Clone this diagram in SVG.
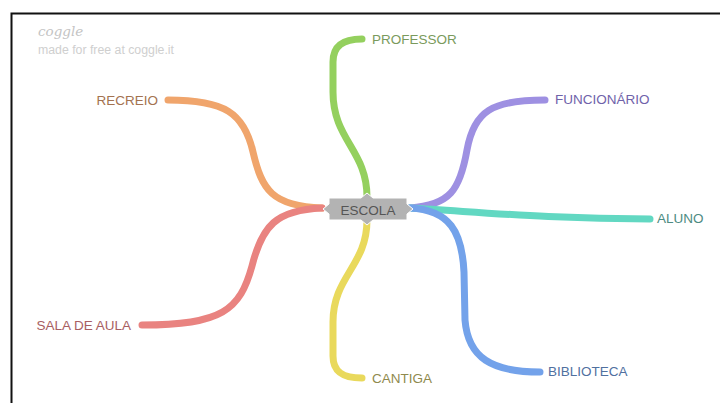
<svg xmlns="http://www.w3.org/2000/svg" width="720" height="403" viewBox="0 0 720 403">
<style>
.br{fill:none;stroke-linecap:round;stroke-linejoin:round;stroke-width:7}
.lb{font-family:"Liberation Sans",Arial,sans-serif;font-size:13.5px}
</style>
<rect width="720" height="403" fill="#fff"/>
<path d="M11.5,403 V13.5 H720" fill="none" stroke="#111" stroke-width="2"/>
<g id="logo">
<text x="38" y="36" font-family="'DejaVu Serif',serif" font-style="italic" font-size="13.5" fill="#c4c4c4">coggle</text>
<text x="38" y="54" font-family="'Liberation Sans',Arial,sans-serif" font-size="12.3" fill="#cfcfcf">made for free at coggle.it</text>
</g>
<g id="connectors">
<path class="br" stroke="#f0a56c" d="M322,208 C272,206 262,190 253,152 C244,113 225,100 168,100"/>
<path class="br" stroke="#e98380" d="M322,208 C276,210 262,226 252,266 C240,310 222,325 142,325"/>
<path class="br" stroke="#94d05e" d="M367,197 C367,150 333,140 333,92 L333,62 C333,46 343,39 362,39"/>
<path class="br" stroke="#e9d95c" d="M367,220 C367,266 333,276 333,322 L333,356 C333,372 343,378 362,378"/>
<path class="br" stroke="#9e90e2" d="M410,208 C450,205 460,190 467,150 C474,111 492,100 545,100"/>
<path class="br" stroke="#62d8c2" d="M410,208 C480,212 550,219 650,219"/>
<path class="br" stroke="#73a2ea" d="M410,208 C450,210 462,232 464,272 L465,320 C468,358 492,372 540,372"/>
</g>
<g id="escola">
<polygon points="329,198 361,198 367,193 373,198 407,198 407,204 413,209 407,214 407,220 373,220 367,225 361,220 329,220 329,214 323,209 329,204" fill="#b3b3b3" stroke="#fff" stroke-width="1"/>
<text x="368" y="215" text-anchor="middle" class="lb" font-size="16.5" fill="#555">ESCOLA</text>
</g>
<g id="recreio"><text x="158" y="105" text-anchor="end" class="lb" fill="#a3724f">RECREIO</text></g>
<g id="sala"><text x="131" y="330" text-anchor="end" class="lb" fill="#a85e62">SALA DE AULA</text></g>
<g id="professor"><text x="372" y="44" class="lb" fill="#7a9a5c">PROFESSOR</text></g>
<g id="cantiga"><text x="372" y="383" class="lb" fill="#8f8a4e">CANTIGA</text></g>
<g id="funcionario"><text x="555" y="104" class="lb" fill="#6f62aa">FUNCIONÁRIO</text></g>
<g id="aluno"><text x="657" y="223" class="lb" fill="#4d8b82">ALUNO</text></g>
<g id="biblioteca"><text x="548" y="376" class="lb" fill="#50709f">BIBLIOTECA</text></g>
</svg>
